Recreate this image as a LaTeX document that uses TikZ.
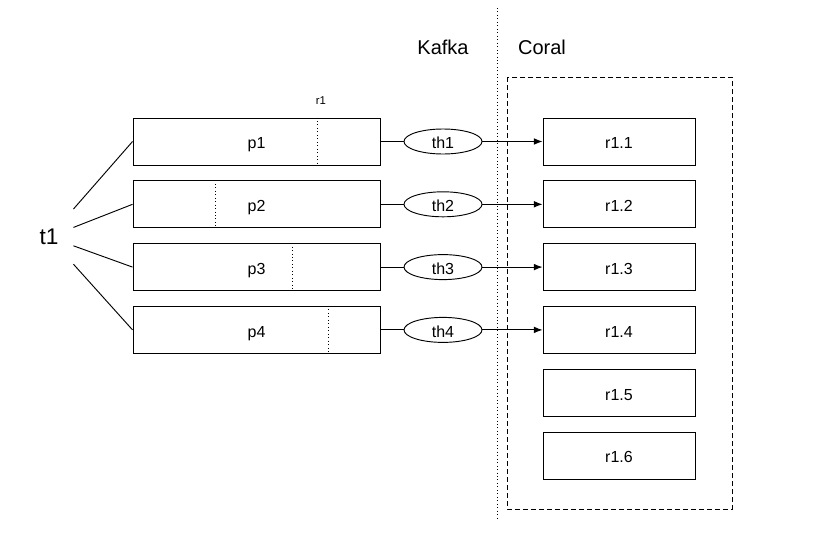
\documentclass[tikz,border=0pt]{standalone}
\usepackage{fontspec}
\setmainfont{Liberation Sans}
\usetikzlibrary{shapes,arrows,arrows.meta,positioning}

\begin{document}
\begin{tikzpicture}[x=0.75pt,y=-0.75pt,line width=0.7pt,
  every node/.style = {font=\fontsize{12}{14}\selectfont, inner sep=0pt},
  boxtext/.style = {text height=11pt, text depth=0pt},
  part/.style  = {draw, rectangle, boxtext, minimum width=185.25pt, minimum height=35.25pt},
  rep/.style   = {draw, rectangle, boxtext, minimum width=114pt, minimum height=35.25pt},
  thread/.style = {draw, ellipse, boxtext, minimum width=58.5pt, minimum height=18.75pt},
  offset/.style = {dotted, line width=0.6pt},
  feed/.style  = {-{Latex[length=6.5pt,width=5pt]}, line width=0.7pt},
  big/.style   = {font=\fontsize{15}{18}\selectfont}]
\useasboundingbox (0,0) rectangle (818,553);
% topic and partitions
\node[font=\fontsize{17}{20}\selectfont, minimum width=36pt, minimum height=45pt] (t1) at (49,237) {t1};
\node[part] (p;1) at (256.5,141.5) {p1};
\node[part] (p;2) at (256.5,204.3) {p2};
\node[part] (p;3) at (256.5,267.1) {p3};
\node[part] (p;4) at (256.5,329.9) {p4};
\foreach \j in {1,2,3,4}
  { \draw (t1) -- (p;\j.west); }
% consumer offsets
\draw[offset] (317,0 |- p;1.north) -- (317,0 |- p;1.south);
\draw[offset] (215,0 |- p;2.north) -- (215,0 |- p;2.south);
\draw[offset] (292,0 |- p;3.north) -- (292,0 |- p;3.south);
\draw[offset] (328,0 |- p;4.north) -- (328,0 |- p;4.south);
\node[font=\fontsize{8.5}{10}\selectfont] (r1) at (321,101) {r1};
% threads
\node[thread] (th;1) at (443,141.5) {th1};
\node[thread] (th;2) at (443,204.3) {th2};
\node[thread] (th;3) at (443,267.1) {th3};
\node[thread] (th;4) at (443,329.9) {th4};
% replicas
\node[rep] (r;1) at (619,141.5) {r1.1};
\node[rep] (r;2) at (619,204.3) {r1.2};
\node[rep] (r;3) at (619,267.1) {r1.3};
\node[rep] (r;4) at (619,329.9) {r1.4};
\node[rep] (r;5) at (619,392.7) {r1.5};
\node[rep] (r;6) at (619,455.5) {r1.6};
\foreach \j in {1,2,3,4}
  { \draw (p;\j.east) -- (th;\j.west);
    \draw[feed] (th;\j.east) -- (r;\j.west); }
% kafka / coral split
\node[big] (kafka) at (443,47) {Kafka};
\node[big] (coral) at (542,47) {Coral};
\coordinate (splittop) at (497,8);
\coordinate (splitbot) at (497,520);
\draw[offset] (splittop) -- (splitbot);
\draw[dash pattern=on 3.5pt off 2.5pt, line width=0.7pt] (507,77) rectangle (732,509);
\end{tikzpicture}
\end{document}
